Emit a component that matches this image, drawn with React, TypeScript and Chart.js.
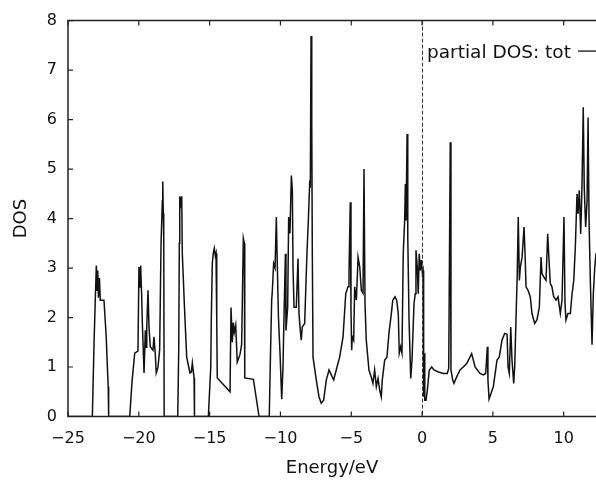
import { useEffect, useRef } from 'react';
import { Chart, registerables } from 'chart.js';

Chart.register(...registerables);

// Energy (eV) and total DOS
const energy = [
  -25, -23.28, -23.16, -23.07, -23.0, -22.95, -22.9, -22.85, -22.78, -22.72, -22.46, -22.3, -22.22, -22.16, -22.13,
  -20.64, -20.48, -20.29, -20.06, -19.99, -19.92, -19.87, -19.8, -19.75, -19.63, -19.54, -19.49, -19.44, -19.35, -19.28,
  -19.19, -19.0, -18.93, -18.84, -18.77, -18.65, -18.53, -18.43, -18.34, -18.31, -18.27, -18.24, -18.21,
  -17.25, -17.18, -17.14, -17.11, -17.04, -16.97, -16.93, -16.79, -16.62, -16.39, -16.29, -16.22, -16.1, -16.07,
  -15.09, -14.92, -14.88, -14.81, -14.74, -14.67, -14.6, -14.55, -14.5, -14.46, -13.56, -13.49, -13.4, -13.33, -13.26,
  -13.16, -13.05, -12.86, -12.74, -12.62, -12.55, -12.52, -11.91, -11.51,
  -10.79, -10.7, -10.62, -10.58, -10.48, -10.38, -10.29, -10.24, -10.14, -10.03, -9.91, -9.82, -9.75, -9.65, -9.61,
  -9.49, -9.42, -9.33, -9.23, -9.16, -9.11, -9.04, -8.88, -8.76, -8.69, -8.6, -8.53, -8.46, -8.29, -8.13, -8.03,
  -7.93, -7.89, -7.84, -7.79, -7.75, -7.7, -7.47, -7.28, -7.12, -6.95, -6.76, -6.57, -6.41, -6.24, -6.06, -5.82,
  -5.58, -5.39, -5.23, -5.16, -5.07, -5.02, -4.97, -4.93, -4.83, -4.76, -4.64, -4.52, -4.4, -4.29, -4.17, -4.1,
  -4.03, -3.94, -3.75, -3.59, -3.47, -3.35, -3.23, -3.11, -2.99, -2.88, -2.81, -2.64, -2.48, -2.34, -2.17, -2.07,
  -1.91, -1.79, -1.68, -1.61, -1.51, -1.42, -1.33, -1.23, -1.18, -1.13, -1.06, -1.01, -0.92, -0.8, -0.71, -0.57,
  -0.48, -0.43, -0.34, -0.27, -0.2, -0.13, -0.05, 0.02, 0.07, 0.11, 0.14, 0.19, 0.28, 0.37, 0.51, 0.68, 0.84,
  1.15, 1.5, 1.78, 1.88, 1.99, 2.04, 2.16, 2.25, 2.44, 2.68, 2.91, 3.15, 3.38, 3.5, 3.62, 3.74, 3.9, 4.09, 4.32,
  4.49, 4.61, 4.65, 4.73, 4.94, 5.03, 5.29, 5.45, 5.64, 5.83, 6.0, 6.07, 6.16, 6.26, 6.35, 6.47, 6.54, 6.63, 6.72,
  6.79, 6.87, 6.94, 7.06, 7.2, 7.27, 7.34, 7.48, 7.64, 7.76, 7.95, 8.11, 8.28, 8.4, 8.47, 8.59, 8.75, 8.87, 8.94,
  9.05, 9.17, 9.29, 9.46, 9.6, 9.76, 9.88, 10.02, 10.09, 10.16, 10.3, 10.47, 10.59, 10.71, 10.82, 10.94, 11.01,
  11.1, 11.2, 11.29, 11.38, 11.45, 11.55, 11.65, 11.72, 11.79, 11.88, 12.0, 12.09, 12.19, 12.28,
];

const dos = [
  0, 0, 1.5, 2.4, 3.05, 2.55, 2.95, 2.4, 2.8, 2.35, 2.35, 1.6, 1.0, 0.6, 0,
  0, 0.7, 1.28, 1.32, 3.02, 2.6, 3.05, 2.45, 1.88, 0.88, 1.74, 1.4, 1.81, 2.55, 1.8,
  1.41, 1.34, 1.61, 1.28, 0.88, 0.99, 1.34, 3.5, 4.36, 4.75, 4.1, 3.6, 0,
  0, 1.4, 3.5, 4.45, 4.3, 4.45, 3.3, 2.3, 1.2, 0.88, 0.9, 1.08, 0.78, 0,
  0, 1.0, 2.0, 3.1, 3.3, 3.4, 3.25, 3.3, 2.0, 0.78, 0.5, 2.2, 1.5, 1.9, 1.7,
  1.85, 1.1, 1.25, 1.45, 3.6, 3.5, 0.78, 0.75, 0,
  0, 1.3, 2.35, 2.5, 3.09, 3.0, 4.03, 3.3, 2.0, 1.28, 0.35, 1.0, 2.0, 3.29, 1.74,
  2.21, 4.03, 3.7, 4.87, 4.57, 2.95, 2.21, 2.21, 3.19, 2.08, 1.74, 1.54, 1.81, 1.88, 3.29, 3.96,
  4.77, 4.63, 7.69, 5.98, 3.29, 1.2, 0.74, 0.4, 0.27, 0.33, 0.74, 0.94, 0.84, 0.74, 0.94, 1.2,
  1.61, 2.48, 2.62, 2.89, 4.33, 2.15, 1.34, 1.61, 1.54, 2.62, 2.35, 3.22, 3.02, 2.55, 2.49, 5.0,
  2.29, 1.54, 0.94, 0.8, 0.67, 0.94, 0.6, 0.77, 0.53, 0.4, 0.74, 1.14, 1.2, 1.68, 2.08, 2.35,
  2.42, 2.35, 2.08, 1.28, 1.41, 1.28, 3.29, 3.96, 4.7, 3.96, 5.71, 3.62, 1.95, 0.77, 1.14, 2.28,
  2.48, 3.36, 3.02, 2.48, 3.29, 2.95, 3.16, 2.89, 2.95, 0.4, 1.28, 0.33, 0.33, 0.53, 0.94, 1.0, 0.94,
  0.9, 0.87, 0.87, 0.97, 5.54, 0.94, 0.74, 0.67, 0.8, 0.94, 1.0, 1.07, 1.2, 1.27, 1.14, 1.0, 0.94, 0.87, 0.84,
  0.87, 1.41, 0.74, 0.35, 0.53, 0.6, 1.14, 1.2, 1.54, 1.68, 1.66, 1.0, 0.87, 1.81, 1.14, 0.67, 1.0, 1.95, 2.89,
  4.03, 2.75, 3.02, 3.22, 3.83, 3.29, 2.62, 2.55, 2.42, 2.08, 1.88, 1.95, 2.21, 3.22, 2.89, 2.82, 2.75, 3.69, 3.29,
  2.69, 2.62, 2.42, 2.35, 2.42, 2.08, 2.35, 4.03, 2.28, 1.95, 2.08, 2.08, 2.48, 2.75, 3.42, 4.5, 4.1,
  4.57, 3.69, 4.63, 6.25, 4.63, 3.83, 4.36, 6.04, 3.96, 2.75, 1.45, 2.48, 3.0, 3.3,
];

const xTicks = [-25, -20, -15, -10, -5, 0, 5, 10];
const yTicks = [0, 1, 2, 3, 4, 5, 6, 7, 8];
const xRange = [-25, 12.28];
const yRange = [0, 8];
const fermiLevel = [0];
const legendLabel = 'partial DOS: tot';
const xTitle = 'Energy/eV';
const yTitle = 'DOS';

const FONT = '"DejaVu Sans", sans-serif';

const framePlugin = {
  id: 'frame',
  afterDatasetsDraw(chart: any) {
    const { ctx, chartArea, scales } = chart;
    const { left, right, top, bottom } = chartArea;
    const x = scales.x;
    const y = scales.y;
    ctx.save();
    // dashed Fermi line
    ctx.strokeStyle = '#333';
    ctx.lineWidth = 1;
    ctx.setLineDash([4, 2]);
    fermiLevel.forEach((v) => {
      const px = Math.round(x.getPixelForValue(v)) + 0.5;
      ctx.beginPath();
      ctx.moveTo(px, top);
      ctx.lineTo(px, bottom);
      ctx.stroke();
    });
    ctx.setLineDash([]);
    // frame (left, top, bottom)
    ctx.strokeStyle = '#222';
    ctx.lineWidth = 1.5;
    ctx.beginPath();
    ctx.moveTo(right + 2, top);
    ctx.lineTo(left, top);
    ctx.lineTo(left, bottom);
    ctx.lineTo(right + 2, bottom);
    ctx.stroke();
    // inward ticks
    ctx.lineWidth = 1.2;
    ctx.beginPath();
    yTicks.forEach((v) => {
      const py = y.getPixelForValue(v);
      ctx.moveTo(left, py);
      ctx.lineTo(left + 5, py);
    });
    xTicks.forEach((v) => {
      const px = x.getPixelForValue(v);
      ctx.moveTo(px, bottom);
      ctx.lineTo(px, bottom - 5);
      ctx.moveTo(px, top);
      ctx.lineTo(px, top + 5);
    });
    ctx.stroke();
    // key
    ctx.font = `18.5px ${FONT}`;
    ctx.fillStyle = '#111';
    ctx.textAlign = 'left';
    ctx.textBaseline = 'alphabetic';
    ctx.fillText(legendLabel, right - 169, top + 37);
    ctx.lineWidth = 1.4;
    ctx.beginPath();
    ctx.moveTo(right - 18, top + 30.5);
    ctx.lineTo(right, top + 30.5);
    ctx.stroke();
    ctx.restore();
  },
};

export default function App() {
  const ref = useRef<HTMLCanvasElement | null>(null);

  useEffect(() => {
    if (!ref.current) return;
    const points = energy.map((e, i) => ({ x: e, y: dos[i] }));
    const chart = new Chart(ref.current, {
      type: 'line',
      data: {
        datasets: [
          {
            label: legendLabel,
            data: points,
            borderColor: '#111',
            borderWidth: 1.5,
            pointRadius: 0,
            tension: 0,
            fill: false,
          },
        ],
      },
      options: {
        animation: false,
        responsive: true,
        maintainAspectRatio: false,
        layout: { padding: { top: 19.5, right: 0, left: 0, bottom: 0 } },
        plugins: {
          legend: { display: false },
          tooltip: { enabled: false },
        },
        scales: {
          x: {
            type: 'linear',
            min: xRange[0],
            max: xRange[1],
            grid: { display: false, drawTicks: false },
            border: { display: false },
            afterFit: (s: any) => {
              s.height = 63.5;
            },
            afterBuildTicks: (s: any) => {
              s.ticks = xTicks.map((v) => ({ value: v }));
            },
            ticks: {
              includeBounds: false,
              autoSkip: false,
              maxRotation: 0,
              padding: 13,
              color: '#111',
              font: { family: FONT, size: 16 },
              callback: (v: any) => (Number(v) < 0 ? '\u2212' + Math.abs(Number(v)) : String(v)),
            },
            title: {
              display: true,
              text: xTitle,
              color: '#111',
              font: { family: FONT, size: 18 },
              padding: { top: 0, bottom: 1 },
            },
          },
          y: {
            type: 'linear',
            min: yRange[0],
            max: yRange[1],
            grid: { display: false, drawTicks: false },
            border: { display: false },
            afterFit: (s: any) => {
              s.width = 68;
            },
            afterBuildTicks: (s: any) => {
              s.ticks = yTicks.map((v) => ({ value: v }));
            },
            ticks: {
              autoSkip: false,
              padding: 11,
              color: '#111',
              font: { family: FONT, size: 16 },
            },
            title: {
              display: true,
              text: yTitle,
              color: '#111',
              font: { family: FONT, size: 18 },
              padding: { top: 11, bottom: 0 },
            },
          },
        },
      },
      plugins: [framePlugin],
    });
    return () => chart.destroy();
  }, []);

  return (
    <div style={{ position: 'absolute', left: 0, top: 0, width: 596, height: 480, background: '#fff' }}>
      <canvas ref={ref} />
    </div>
  );
}
